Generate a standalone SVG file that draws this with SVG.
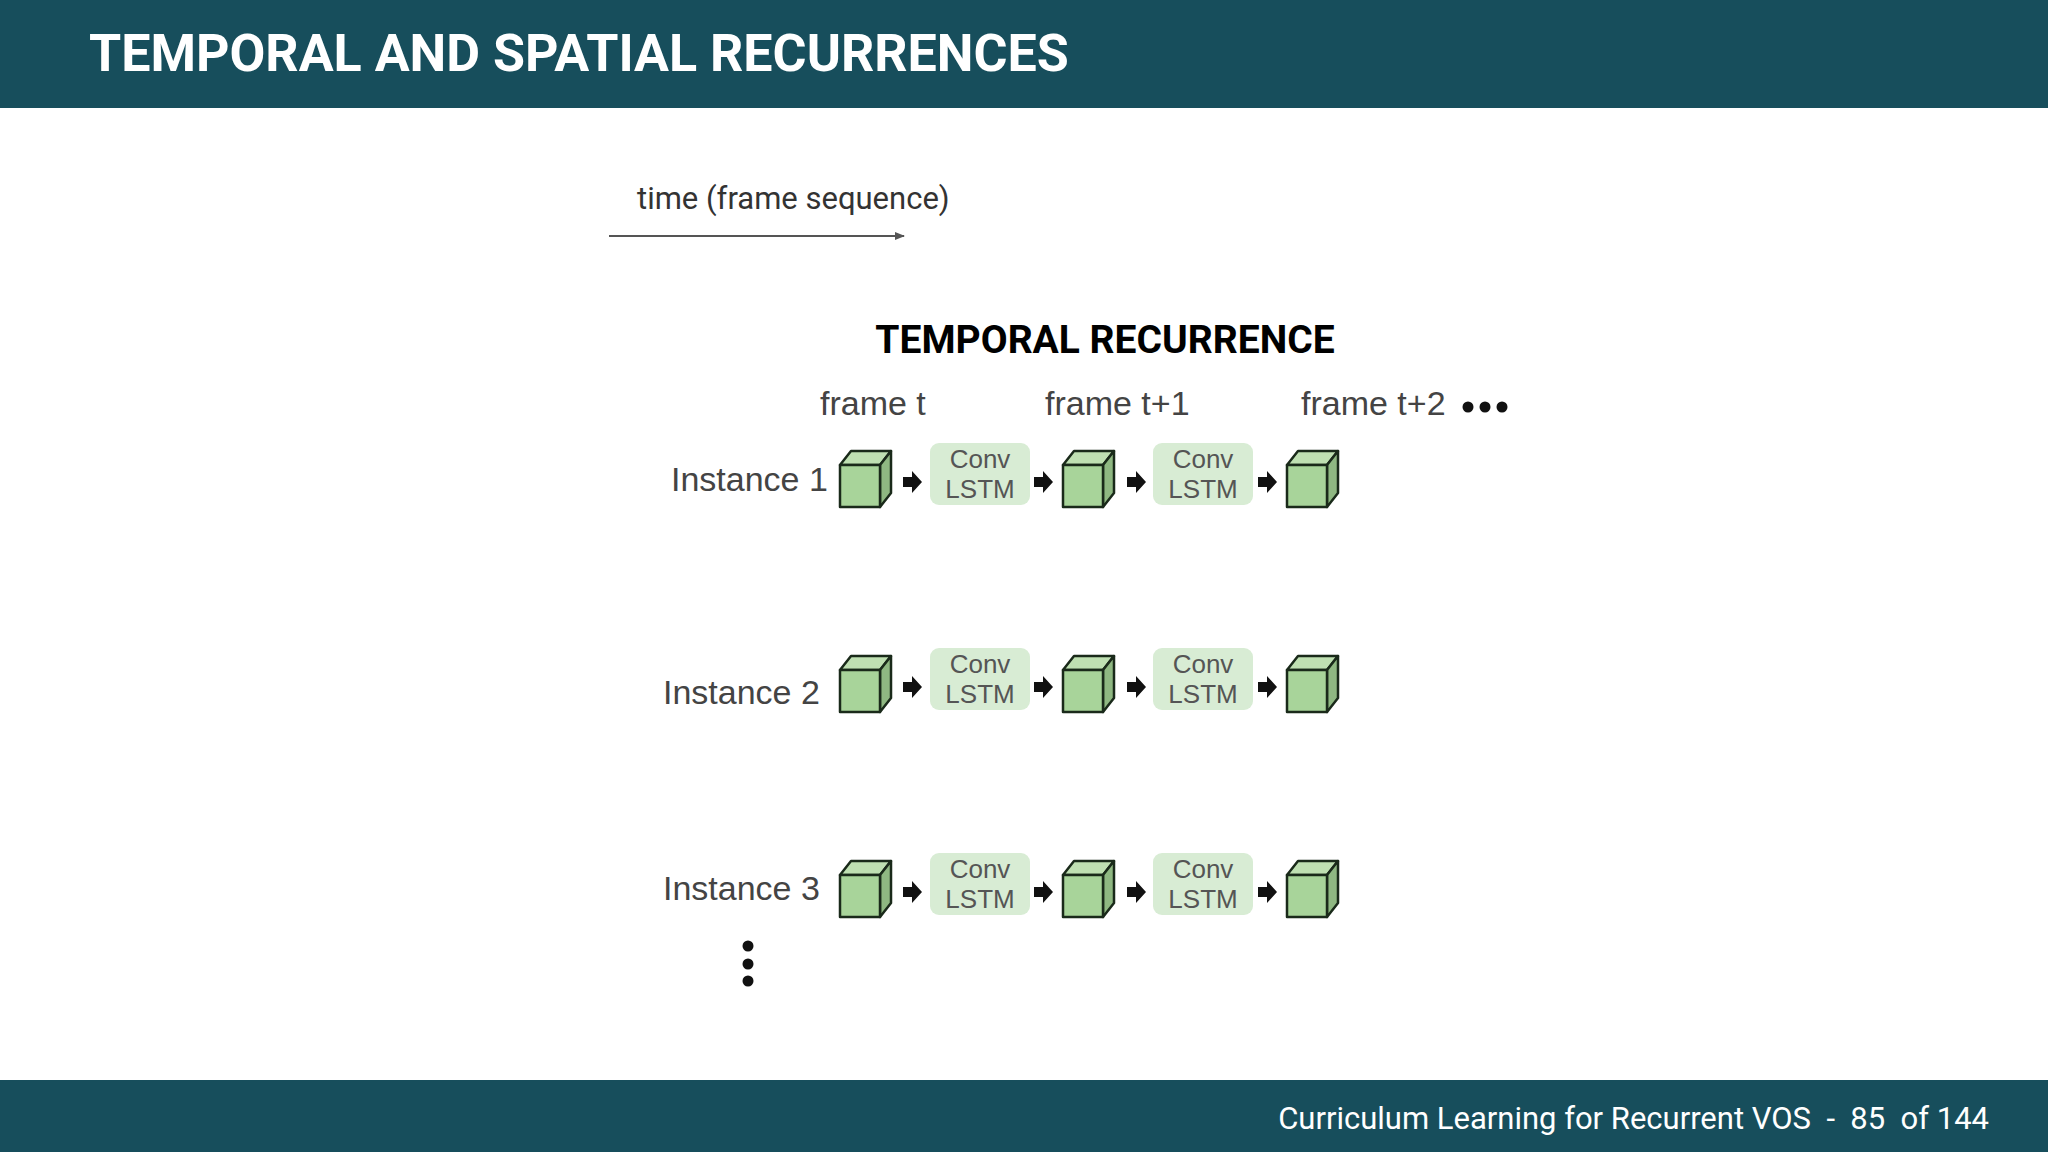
<svg xmlns="http://www.w3.org/2000/svg" width="2048" height="1152" viewBox="0 0 2048 1152">
<defs>
<style>
.t{font-family:Roboto,"Liberation Sans",sans-serif}
.f{fill:#a8d49a;stroke:#1a2a1a;stroke-width:2.5;stroke-linejoin:round}
.s{fill:#8fb882;stroke:#1a2a1a;stroke-width:2.5;stroke-linejoin:round}
.p{fill:#bfe0b2;stroke:#1a2a1a;stroke-width:2.5;stroke-linejoin:round}
.box{fill:#d8ecd4}
.bt{font-family:"Liberation Sans",Arial,sans-serif;font-size:26px;fill:#555;text-anchor:middle}
.lab{font-family:"Liberation Sans",Arial,sans-serif;font-size:34px;fill:#444}
</style>
<g id="cube"><polygon class="p" points="0,14 11,0 51,0 40,14"/><polygon class="s" points="40,14 51,0 51,42 40,56"/><rect class="f" x="0" y="14" width="40" height="42"/></g>
<g id="arr"><polygon points="0,-5 9,-5 9,-11 19,0 9,11 9,5 0,5" fill="#111"/></g>
<g id="lstm"><rect class="box" x="0" y="0" width="100" height="62" rx="9"/><text class="bt" x="50" y="25">Conv</text><text class="bt" x="50" y="55">LSTM</text></g>
<marker id="ah" markerWidth="10" markerHeight="8" refX="9" refY="4" orient="auto" markerUnits="userSpaceOnUse"><path d="M0,0 L10,4 L0,8 z" fill="#555"/></marker>
<g id="row"><use href="#cube" x="840" y="451"/><use href="#arr" x="903" y="482"/><use href="#lstm" x="930" y="443"/><use href="#arr" x="1034" y="482"/><use href="#cube" x="1063" y="451"/><use href="#arr" x="1127" y="482"/><use href="#lstm" x="1153" y="443"/><use href="#arr" x="1258" y="482"/><use href="#cube" x="1287" y="451"/></g>
</defs>
<rect width="2048" height="1152" fill="#fff"/>
<rect width="2048" height="108" fill="#174e5c"/>
<text class="t" x="89" y="71" font-size="52" font-weight="bold" fill="#fff">TEMPORAL AND SPATIAL RECURRENCES</text>
<rect y="1080" width="2048" height="72" fill="#174e5c"/>
<text class="t" x="1989" y="1129" font-size="31" fill="#fff" text-anchor="end" xml:space="preserve">Curriculum Learning for Recurrent VOS  -  85  of 144</text>
<text class="t" x="637" y="209" font-size="31" fill="#333">time (frame sequence)</text>
<g id="connectors"><line x1="609" y1="236" x2="904" y2="236" stroke="#555" stroke-width="2" marker-end="url(#ah)"/></g>
<text class="t" x="1105" y="353" font-size="39" font-weight="bold" fill="#000" text-anchor="middle">TEMPORAL RECURRENCE</text>
<text class="lab" x="820" y="415" font-size="32">frame t</text>
<text class="lab" x="1045" y="415" font-size="32">frame t+1</text>
<text class="lab" x="1301" y="415" font-size="32">frame t+2</text>
<g fill="#111"><circle cx="1468" cy="407" r="5.5"/><circle cx="1485" cy="407" r="5.5"/><circle cx="1502" cy="407" r="5.5"/>
<circle cx="748" cy="946" r="5.5"/><circle cx="748" cy="964" r="5.5"/><circle cx="748" cy="981" r="5.5"/></g>
<g id="instance1"><text class="lab" x="671" y="491">Instance 1</text><use href="#row"/></g>
<g id="instance2"><text class="lab" x="663" y="704">Instance 2</text><use href="#row" y="205"/></g>
<g id="instance3"><text class="lab" x="663" y="900">Instance 3</text><use href="#row" y="410"/></g>
</svg>
